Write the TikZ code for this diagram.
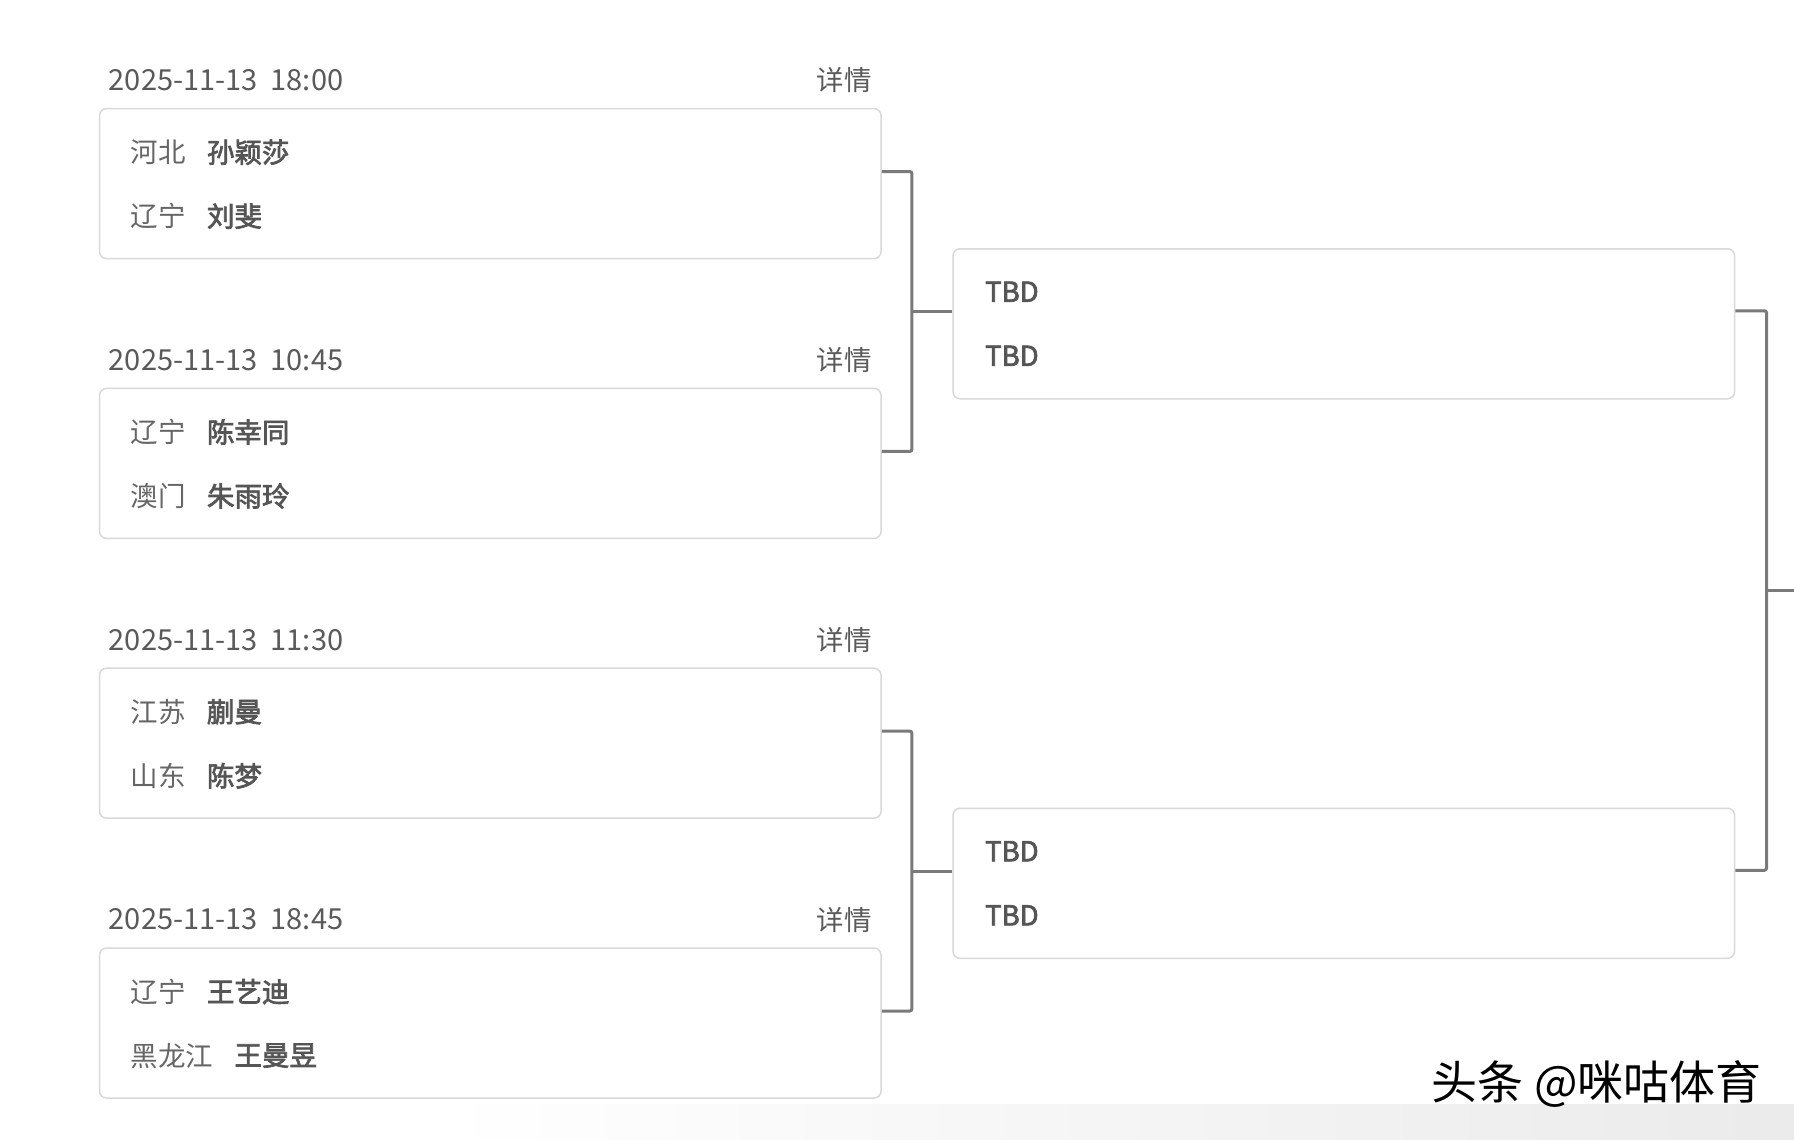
\documentclass[tikz,border=0pt]{standalone}
\usepackage{fontspec}
\setmainfont{Noto Sans CJK SC}
\newfontfamily\namefont[FakeBold=2.6]{Noto Sans CJK SC}
\usetikzlibrary{positioning}

\definecolor{datecol}{HTML}{5A5A5A}
\definecolor{provcol}{HTML}{666666}
\definecolor{namecol}{HTML}{555555}
\definecolor{boxcol}{HTML}{D9D9D9}
\definecolor{linkcol}{HTML}{7A7A7A}

\tikzset{
  matchbox/.style={draw=boxcol, line width=1.5pt, rounded corners=7pt, fill=white,
    minimum width=781.5pt, minimum height=150pt, inner sep=0pt},
  datelbl/.style={anchor=west, inner sep=0pt, text=datecol, font=\fontsize{29}{32}\selectfont},
  morelbl/.style={anchor=east, inner sep=0pt, text=datecol, font=\fontsize{27.5}{30}\selectfont},
  provlbl/.style={anchor=west, inner sep=0pt, text=provcol, font=\fontsize{27.5}{30}\selectfont},
  namelbl/.style={inner sep=0pt, text=namecol, font=\fontsize{27.5}{30}\namefont},
  tbdlbl/.style={anchor=west, inner sep=0pt, text=namecol, font=\fontsize{27.5}{30}\namefont},
  linkline/.style={draw=linkcol, line width=3pt, rounded corners=2pt}
}

\begin{document}
\begin{tikzpicture}[x=1pt,y=-1pt]
  \useasboundingbox[fill=white] (0,0) rectangle (1794,1140);
  \shade[left color=white, right color=black!8] (440,1104) rectangle (1794,1140);

  % first round
  \node[matchbox] (m1) at (490.25,183.6) {};
  \node[matchbox] (m2) at (490.25,463.4) {};
  \node[matchbox] (m3) at (490.25,743.2) {};
  \node[matchbox] (m4) at (490.25,1023.0) {};

  \node[datelbl] (d1) at (108.7,80.1) {2025-11-13\ \ 18:00};
  \node[morelbl] (x1) at (871.8,80.1) {详情};
  \node[provlbl] (p11) at (130.4,152.2) {河北};
  \node[namelbl, right=21pt of p11] (n11) {孙颖莎};
  \node[provlbl] (p12) at (130.4,216.2) {辽宁};
  \node[namelbl, right=21pt of p12] (n12) {刘斐};

  \node[datelbl] (d2) at (108.7,359.9) {2025-11-13\ \ 10:45};
  \node[morelbl] (x2) at (871.8,359.9) {详情};
  \node[provlbl] (p21) at (130.4,432.0) {辽宁};
  \node[namelbl, right=21pt of p21] (n21) {陈幸同};
  \node[provlbl] (p22) at (130.4,496.0) {澳门};
  \node[namelbl, right=21pt of p22] (n22) {朱雨玲};

  \node[datelbl] (d3) at (108.7,639.7) {2025-11-13\ \ 11:30};
  \node[morelbl] (x3) at (871.8,639.7) {详情};
  \node[provlbl] (p31) at (130.4,711.8) {江苏};
  \node[namelbl, right=21pt of p31] (n31) {蒯曼};
  \node[provlbl] (p32) at (130.4,775.8) {山东};
  \node[namelbl, right=21pt of p32] (n32) {陈梦};

  \node[datelbl] (d4) at (108.7,919.5) {2025-11-13\ \ 18:45};
  \node[morelbl] (x4) at (871.8,919.5) {详情};
  \node[provlbl] (p41) at (130.4,991.6) {辽宁};
  \node[namelbl, right=21pt of p41] (n41) {王艺迪};
  \node[provlbl] (p42) at (130.4,1055.6) {黑龙江};
  \node[namelbl, right=21pt of p42] (n42) {王曼昱};

  % second round
  \node[matchbox] (t1) at (1343.75,323.75) {};
  \node[matchbox] (t2) at (1343.75,883.25) {};
  \node[tbdlbl] (t11) at (985,291.7) {TBD};
  \node[tbdlbl] (t12) at (985,355.8) {TBD};
  \node[tbdlbl] (t21) at (985,851.2) {TBD};
  \node[tbdlbl] (t22) at (985,915.3) {TBD};

  % bracket lines
  \coordinate (j1) at (911.9,311.7);
  \coordinate (j2) at (911.9,871.4);
  \coordinate (j3) at (1766.5,590.4);
  \coordinate (fin) at (1794,590.4);
  \draw[linkline] ([yshift=12pt]m1.east) -| (j1) |- ([yshift=12pt]m2.east);
  \draw[linkline] (j1) -- (j1 -| t1.west);
  \draw[linkline] ([yshift=12pt]m3.east) -| (j2) |- ([yshift=12pt]m4.east);
  \draw[linkline] (j2) -- (j2 -| t2.west);
  \draw[linkline] ([yshift=13pt]t1.east) -| (j3) |- ([yshift=13pt]t2.east);
  \draw[linkline] (j3) -- (fin);

  % watermark
  \node[anchor=east, inner sep=0pt, font=\fontsize{46}{50}\selectfont] (wm) at (1762,1083.5) {头条 @咪咕体育};
\end{tikzpicture}
\end{document}
